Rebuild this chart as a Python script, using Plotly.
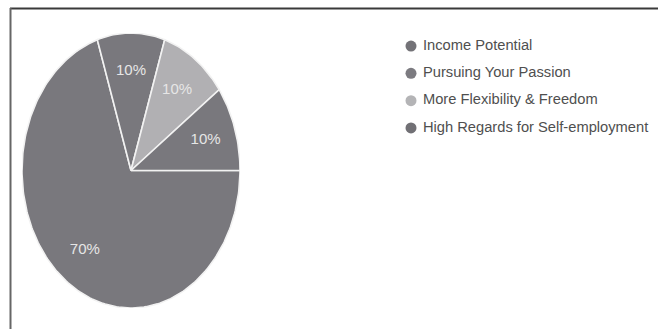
import numpy as np
import plotly.graph_objects as go

# Survey shares by motivation
categories = ["Income Potential", "Pursuing Your Passion",
              "More Flexibility & Freedom", "High Regards for Self-employment"]
values = [70, 10, 10, 10]
slice_colors = ["#79787d", "#79787d", "#b1b0b3", "#79787d"]
legend_colors = ["#737277", "#7c7b80", "#b4b4b6", "#717075"]

W, H = 658, 329
fig = go.Figure()

# Wedges: start at 3 o'clock and run clockwise in category order
total = float(sum(values))
start = 0.0
label_x, label_y, label_txt = [], [], []
for name, v, col in zip(categories, values, slice_colors):
    sweep = 2 * np.pi * v / total
    t = np.linspace(start, start - sweep, max(int(v * 3), 12))
    xs = np.concatenate([[0.0], np.cos(t), [0.0]])
    ys = np.concatenate([[0.0], np.sin(t), [0.0]])
    fig.add_trace(go.Scatter(
        x=xs, y=ys, mode="lines", fill="toself", fillcolor=col,
        line=dict(color="#f2f2f2", width=1.6), hoverinfo="name", name=name,
        showlegend=False, xaxis="x", yaxis="y"))
    mid = start - sweep / 2
    label_x.append(0.72 * np.cos(mid))
    label_y.append(0.72 * np.sin(mid))
    label_txt.append(f"{v / total * 100:.0f}%")
    start -= sweep

fig.add_trace(go.Scatter(
    x=label_x, y=label_y, mode="text", text=label_txt,
    textfont=dict(family="Liberation Sans, Arial, sans-serif", size=15, color="#e6e6e6"),
    hoverinfo="skip", showlegend=False, xaxis="x", yaxis="y"))

# Legend drawn as a marker column with labels
fig.add_trace(go.Scatter(
    x=[0] * len(categories), y=list(range(len(categories))),
    mode="markers+text", text=[" " + c for c in categories], textposition="middle right",
    marker=dict(size=11, color=legend_colors, line=dict(width=0)),
    textfont=dict(family="Liberation Sans, Arial, sans-serif", size=14.7, color="#4f4f4f"),
    cliponaxis=False, hoverinfo="skip", showlegend=False, xaxis="x2", yaxis="y2"))

hidden = dict(visible=False, showgrid=False, zeroline=False, fixedrange=True)
fig.update_layout(
    width=W, height=H,
    margin=dict(l=0, r=0, t=0, b=0),
    paper_bgcolor="white", plot_bgcolor="rgba(0,0,0,0)",
    showlegend=False,
    xaxis=dict(domain=[22 / W, 240 / W], range=[-1, 1], **hidden),
    yaxis=dict(domain=[1 - 308 / H, 1 - 33 / H], range=[-1, 1], **hidden),
    xaxis2=dict(domain=[411 / W, 1.0], range=[0, 1], anchor="y2", **hidden),
    yaxis2=dict(domain=[1 - 141.6 / H, 1 - 32.4 / H], range=[3.5, -0.5], anchor="x2", **hidden),
    shapes=[
        dict(type="line", xref="paper", yref="paper", x0=10 / W, x1=1.0,
             y0=1 - 8.5 / H, y1=1 - 8.5 / H, line=dict(color="#3a3a3a", width=2)),
        dict(type="line", xref="paper", yref="paper", x0=10.5 / W, x1=10.5 / W,
             y0=0, y1=1 - 8 / H, line=dict(color="#666666", width=2)),
    ],
)

fig.write_html("out.html")
